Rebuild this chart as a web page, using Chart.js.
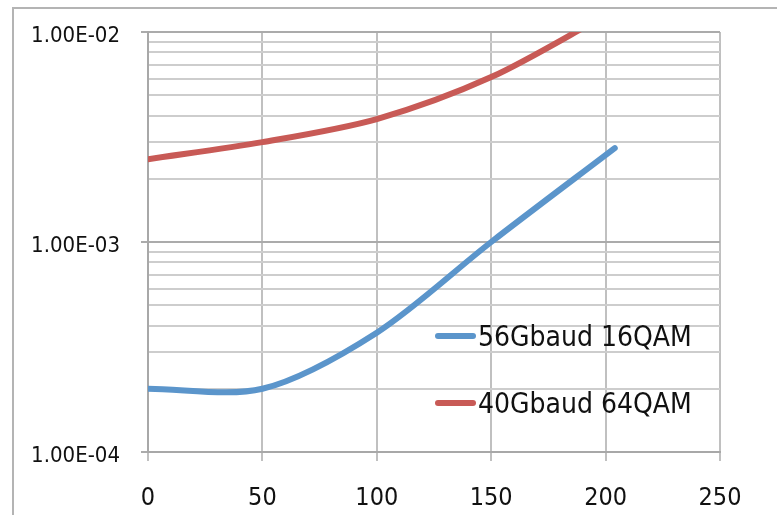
<!DOCTYPE html>
<html>
<head>
<meta charset="utf-8">
<script src="https://cdn.jsdelivr.net/npm/chart.js@4.4.1/dist/chart.umd.min.js"></script>
<style>
  html, body { margin: 0; padding: 0; background: #fff; overflow: hidden; }
  canvas { display: block; }
</style>
</head>
<body>
<canvas id="c" width="777" height="515"></canvas>
<script>
// ---- data ----
const seriesNames = ['56Gbaud 16QAM', '40Gbaud 64QAM'];
const blueX = [0, 50, 100, 150, 204];
const blueY = [2.0e-4, 2.0e-4, 3.7e-4, 1.0e-3, 2.8e-3];
const redX  = [0, 50, 100, 150, 200];
const redY  = [2.48e-3, 2.99e-3, 3.85e-3, 6.1e-3, 1.2e-2];
const xTicks = [0, 50, 100, 150, 200, 250];
const yDecades = [1e-4, 1e-3, 1e-2];
const yTickLabels = ['1.00E-04', '1.00E-03', '1.00E-02'];

const FONT = "'Liberation Sans Narrow', 'DejaVu Sans Condensed', 'Arial Narrow', sans-serif";
const BLUE = '#5b95cb';
const RED = '#c85a56';

function toPts(xs, ys) { return xs.map((x, i) => ({ x: x, y: ys[i] })); }

// gridline positions for log axis: 1..9 x each decade
const yGridValues = [];
for (let d = 0; d < yDecades.length - 1; d++) {
  for (let m = 1; m <= 9; m++) yGridValues.push(m * yDecades[d]);
}
yGridValues.push(yDecades[yDecades.length - 1]);

function isDecade(v) {
  return yDecades.some(d => Math.abs(v / d - 1) < 1e-6);
}
function decadeLabel(v) {
  for (let i = 0; i < yDecades.length; i++) {
    if (Math.abs(v / yDecades[i] - 1) < 1e-6) return yTickLabels[i];
  }
  return '';
}

const framePlugin = {
  id: 'frame',
  beforeDraw(chart) {
    const ctx = chart.ctx;
    ctx.save();
    ctx.strokeStyle = '#b4b4b4';
    ctx.lineWidth = 2;
    ctx.beginPath();
    ctx.moveTo(13, 515);
    ctx.lineTo(13, 8);
    ctx.lineTo(777, 8);
    ctx.stroke();
    ctx.restore();
  }
};

const legendPlugin = {
  id: 'insideLegend',
  afterDatasetsDraw(chart) {
    const ctx = chart.ctx;
    const rows = [336, 403];
    ctx.save();
    chart.data.datasets.forEach((ds, i) => {
      const y = rows[i];
      ctx.strokeStyle = ds.borderColor;
      ctx.lineWidth = 6;
      ctx.lineCap = 'round';
      ctx.beginPath();
      ctx.moveTo(438, y);
      ctx.lineTo(473, y);
      ctx.stroke();
      ctx.fillStyle = '#111';
      ctx.font = '28px ' + FONT;
      ctx.textBaseline = 'middle';
      ctx.textAlign = 'left';
      ctx.fillText(ds.label, 478, y + 3);
    });
    ctx.restore();
  }
};

new Chart(document.getElementById('c'), {
  type: 'line',
  data: {
    datasets: [
      { label: seriesNames[0], data: toPts(blueX, blueY), borderColor: BLUE, backgroundColor: BLUE,
        borderWidth: 6, pointRadius: 0, tension: 0.3, borderCapStyle: 'round', fill: false, clip: 0 },
      { label: seriesNames[1], data: toPts(redX, redY), borderColor: RED, backgroundColor: RED,
        borderWidth: 6, pointRadius: 0, tension: 0.3, borderCapStyle: 'round', fill: false, clip: 0 }
    ]
  },
  options: {
    responsive: false,
    animation: false,
    devicePixelRatio: 1,
    layout: { padding: { left: 0, right: 57, top: 32, bottom: 0 } },
    plugins: { legend: { display: false }, tooltip: { enabled: false } },
    scales: {
      x: {
        type: 'linear', min: 0, max: 250,
        afterBuildTicks(scale) { scale.ticks = xTicks.map(v => ({ value: v })); },
        afterFit(scale) { scale.height = 63; scale.paddingLeft = 0; scale.paddingRight = 0; },
        grid: { color: '#c0c0c0', lineWidth: 2, tickLength: 9 },
        border: { color: '#a8a8a8', width: 2 },
        ticks: { color: '#111', font: { family: FONT, size: 25 }, padding: 22, maxRotation: 0 }
      },
      y: {
        type: 'logarithmic', min: 1e-4, max: 1e-2,
        afterBuildTicks(scale) { scale.ticks = yGridValues.map(v => ({ value: v, major: isDecade(v) })); },
        afterFit(scale) { scale.width = 148; scale.paddingTop = 0; scale.paddingBottom = 0; },
        grid: {
          color: ctx => (ctx.tick && isDecade(ctx.tick.value)) ? '#ababab' : '#cdcdcd',
          tickColor: ctx => (ctx.tick && isDecade(ctx.tick.value)) ? '#ababab' : 'rgba(0,0,0,0)',
          lineWidth: 2, tickLength: 7
        },
        border: { color: '#a8a8a8', width: 2 },
        ticks: {
          color: '#111', font: { family: FONT, size: 22 }, padding: 21, labelOffset: 4,
          autoSkip: false,
          callback: v => decadeLabel(v)
        }
      }
    }
  },
  plugins: [framePlugin, legendPlugin]
});
</script>
</body>
</html>
